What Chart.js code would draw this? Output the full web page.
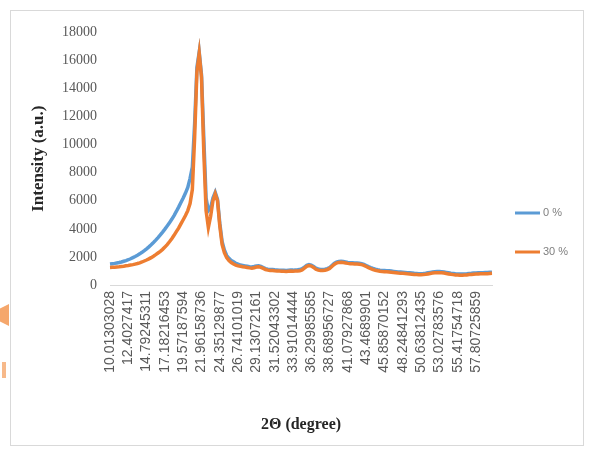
<!DOCTYPE html>
<html>
<head>
<meta charset="utf-8">
<script src="https://cdn.jsdelivr.net/npm/chart.js@4"></script>
<style>
  body { margin: 0; background: #fff; width: 589px; height: 451px; overflow: hidden; position: relative; }
  #box { position: absolute; left: 10px; top: 10px; width: 572px; height: 434px; border: 1px solid #d9d9d9; }
  #arrow1 { position: absolute; left: 0; top: 304px; width: 9px; height: 22px; background: #f5a76c;
            clip-path: polygon(0 20%, 100% 0, 100% 100%, 0 80%); }
  #arrow2 { position: absolute; left: 2px; top: 362px; width: 4px; height: 16px; background: #f7b98a; }
</style>
</head>
<body>
<div id="arrow1"></div><div id="arrow2"></div>
<div id="box"><canvas id="myChart" width="572" height="434"></canvas></div>
<script>
// tick labels shown every 8th point (2-theta, degrees)
const tickLabels = ["10.01303028", "12.4027417", "14.79245311", "17.18216453", "19.57187594",
  "21.96158736", "24.35129877", "26.74101019", "29.13072161", "31.52043302", "33.91014444",
  "36.29985585", "38.68956727", "41.07927868", "43.4689901", "45.85870152", "48.24841293",
  "50.63812435", "53.02783576", "55.41754718", "57.80725859"];

// 0 % sample
const pct0 = [
  1500,1520,1540,1570,1600,1640,1690,1740,1800,1870,
  1950,2030,2120,2220,2330,2450,2580,2720,2870,3030,
  3200,3380,3570,3770,3980,4200,4430,4680,4950,5240,
  5550,5880,6200,6550,6950,7600,8400,11500,15500,16600,
  15000,10500,6200,5300,5500,6200,6600,6100,4400,3100,
  2500,2100,1900,1750,1650,1550,1480,1420,1390,1360,
  1330,1300,1290,1320,1360,1370,1330,1250,1170,1130,
  1110,1100,1080,1070,1060,1050,1050,1040,1050,1060,
  1060,1070,1080,1100,1160,1280,1400,1450,1420,1330,
  1200,1140,1110,1100,1120,1170,1250,1390,1530,1630,
  1680,1690,1670,1640,1610,1590,1580,1570,1560,1550,
  1520,1470,1390,1310,1240,1180,1130,1090,1060,1040,
  1030,1020,1010,990,970,950,930,920,910,900,
  880,870,850,830,820,810,810,820,840,870,
  900,930,950,960,960,950,930,900,870,840,
  820,800,790,780,780,790,800,820,830,850,
  860,870,880,880,890,890,900,910
];

// 30 % sample
const pct30 = [
  1250,1260,1270,1290,1300,1320,1340,1370,1390,1420,
  1450,1490,1530,1580,1640,1710,1780,1860,1950,2050,
  2160,2280,2400,2540,2700,2880,3080,3300,3540,3800,
  4050,4350,4650,4950,5300,5800,6800,10500,15200,16500,
  14800,9500,5300,4100,4900,6000,6500,6000,4200,2900,
  2300,1950,1750,1600,1500,1420,1360,1330,1300,1280,
  1250,1220,1200,1230,1280,1300,1260,1180,1100,1060,
  1040,1030,1010,1000,990,980,980,970,980,990,
  980,990,1000,1020,1080,1200,1330,1380,1350,1250,
  1120,1060,1040,1030,1050,1100,1180,1320,1460,1560,
  1610,1620,1600,1570,1540,1520,1510,1500,1490,1480,
  1450,1400,1320,1240,1160,1100,1050,1010,980,960,
  950,940,930,910,890,870,850,840,830,820,
  800,790,770,750,740,730,730,740,760,790,
  820,850,870,880,880,870,850,820,790,760,
  740,720,710,700,700,710,720,740,750,770,
  780,790,800,800,810,810,820,830
];

const labels = pct0.map((v, i) => (i % 8 === 0 ? tickLabels[i / 8] : ""));

const blue = "#5b9bd5";
const orange = "#ed7d31";

// legend drawn by hand, Excel style (line + text at right)
const sideLegend = {
  id: "sideLegend",
  afterDraw: (chart) => {
    const { ctx, data } = chart;
    const rows = [202, 241];
    ctx.save();
    ctx.font = "11px 'Liberation Sans'";
    ctx.textBaseline = "middle";
    data.datasets.forEach((ds, i) => {
      ctx.strokeStyle = ds.borderColor;
      ctx.lineWidth = 3;
      ctx.beginPath();
      ctx.moveTo(504, rows[i]);
      ctx.lineTo(529, rows[i]);
      ctx.stroke();
      ctx.fillStyle = "#7f7f7f";
      ctx.fillText(ds.label, 532, rows[i]);
    });
    ctx.restore();
  },
};

const config = {
  type: "line",
  data: {
    labels: labels,
    datasets: [
      { label: "0 %", data: pct0, borderColor: blue, backgroundColor: blue,
        borderWidth: 3.5, pointRadius: 0, tension: 0, order: 2 },
      { label: "30 %", data: pct30, borderColor: orange, backgroundColor: orange,
        borderWidth: 3.5, pointRadius: 0, tension: 0, order: 1 },
    ],
  },
  options: {
    responsive: false,
    animation: false,
    layout: { padding: { left: 0, top: 21, right: 91, bottom: 0 } },
    plugins: { legend: { display: false }, tooltip: { enabled: false } },
    scales: {
      x: {
        grid: { display: false, drawTicks: false },
        border: { display: true, color: "#d9d9d9", width: 1 },
        ticks: {
          autoSkip: false, minRotation: 90, maxRotation: 90, padding: 6,
          color: "#595959", font: { family: "'Liberation Sans'", size: 14 },
        },
        title: {
          display: true, text: "2Θ (degree)", color: "#262626",
          font: { family: "'Liberation Serif'", size: 16, weight: "bold" },
          padding: { top: 0, bottom: 11 },
        },
        afterFit: (s) => { s.height = 160; },
      },
      y: {
        min: 0, max: 18000,
        grid: { display: false, drawTicks: false },
        border: { display: false },
        ticks: {
          stepSize: 2000, padding: 13, color: "#595959",
          font: { family: "'Liberation Serif'", size: 14 },
          callback: (v) => String(v),
        },
        title: {
          display: true, text: "Intensity (a.u.)", color: "#262626",
          font: { family: "'Liberation Serif'", size: 17, weight: "bold" },
          padding: { top: 17, bottom: 0 },
        },
        afterFit: (s) => { s.width = 99; },
      },
    },
  },
  plugins: [sideLegend],
};

const myChart = new Chart(document.getElementById("myChart"), config);
</script>
</body>
</html>
